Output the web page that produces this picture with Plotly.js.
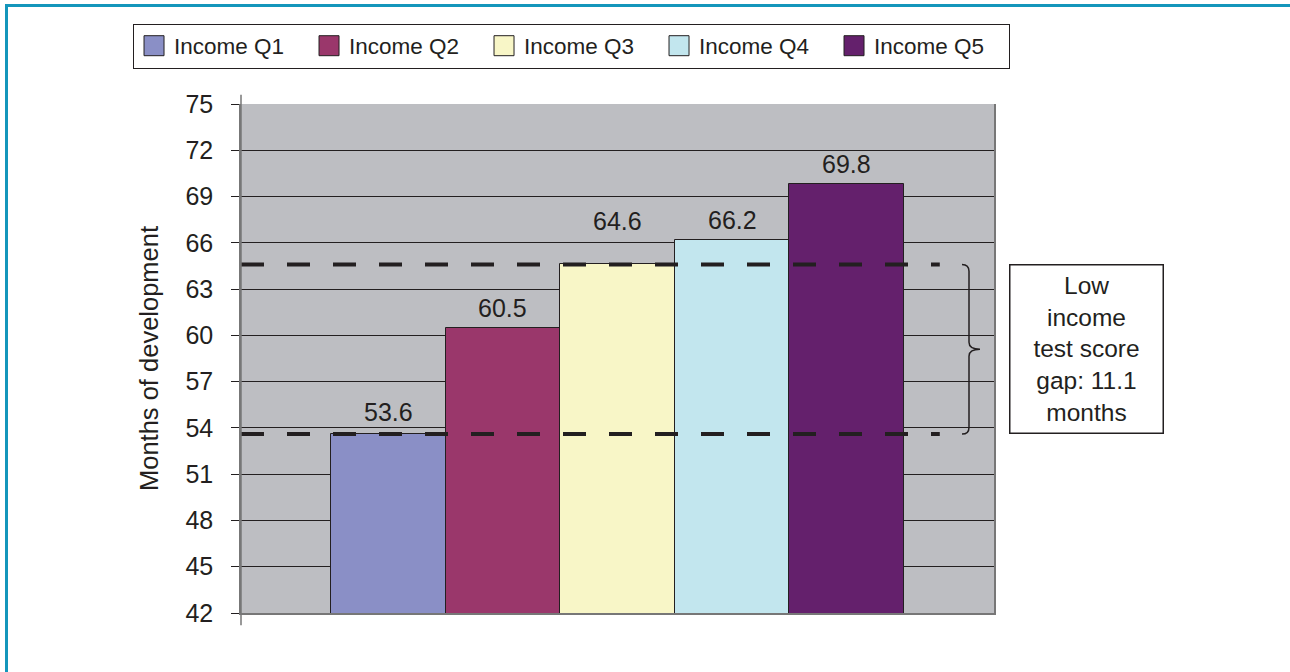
<!DOCTYPE html>
<html><head><meta charset="utf-8">
<script src="https://cdn.plot.ly/plotly-3.0.1.min.js"></script>
<style>
html,body{margin:0;padding:0;background:#fff;overflow:hidden;}
#chart{width:1290px;height:672px;}
#frame{position:absolute;left:5px;top:4px;right:0;bottom:0;border-left:3px solid #1496bb;border-top:3px solid #1496bb;pointer-events:none;}
</style></head><body>
<div id="chart"></div><div id="frame"></div>
<script>
const categories = ['Income Q1', 'Income Q2', 'Income Q3', 'Income Q4', 'Income Q5'];
const values = [53.6, 60.5, 64.6, 66.2, 69.8];
const colors = ['#8a8fc6', '#9a376b', '#f8f6c7', '#c2e6ee', '#64206c'];
const yTickVals = [42, 45, 48, 51, 54, 57, 60, 63, 66, 69, 72, 75];
const gapNoteLines = ['Low', 'income', 'test score', 'gap: 11.1', 'months'];
const yTitle = 'Months of development';

const FONT = 'Liberation Sans, Arial, Helvetica, sans-serif';
const TXT = '#231f20';

const traces = categories.map((c, i) => ({
  type: 'bar', name: c, x: [c], y: [values[i]],
  marker: {color: colors[i], line: {color: '#231f20', width: 1}},
  hoverinfo: 'name+y'
}));

const lowIdx = 0, highIdx = 2;
const low = values[lowIdx], high = values[highIdx], mid = (low + high) / 2;

// labels: the one sitting on the upper dashed line is lifted clear of it
const labelAnn = categories.map((c, i) => ({
  x: c, y: values[i], xref: 'x', yref: 'y', text: values[i].toFixed(1),
  showarrow: false, yanchor: 'bottom',
  yshift: i === highIdx ? 27 : (i === lowIdx ? 6 : 4),
  font: {family: FONT, size: 25, color: TXT}
}));

const noteAnn = {
  xref: 'paper', yref: 'y', x: 1.123, y: mid, xanchor: 'center', yanchor: 'middle',
  text: gapNoteLines.join('<br>'), showarrow: false, align: 'center',
  width: 150, height: 165, borderpad: 1, bordercolor: '#231f20', borderwidth: 1.5,
  bgcolor: '#ffffff', font: {family: FONT, size: 24.5, color: TXT}
};

const bx0 = 0.9575, bx1 = 0.9668, bx2 = 0.9814, c = 0.45;
const bracePath = `M${bx0},${high} Q${bx1},${high} ${bx1},${high - c} L${bx1},${mid + c} Q${bx1},${mid} ${bx2},${mid} Q${bx1},${mid} ${bx1},${mid - c} L${bx1},${low + c} Q${bx1},${low} ${bx0},${low}`;

const shapes = [
  {type: 'line', xref: 'paper', yref: 'y', x0: 0, x1: 0.928, y0: high, y1: high,
   line: {color: '#231f20', width: 4, dash: '23px,23px'}, layer: 'above'},
  {type: 'line', xref: 'paper', yref: 'y', x0: 0, x1: 0.928, y0: low, y1: low,
   line: {color: '#231f20', width: 4, dash: '23px,23px'}, layer: 'above'},
  {type: 'path', xref: 'paper', yref: 'y', path: bracePath, line: {color: '#231f20', width: 1.5}},
  {type: 'line', xref: 'paper', yref: 'paper', x0: 0, x1: 0, y0: -0.024, y1: 1.018,
   line: {color: '#777777', width: 1.5}, layer: 'above'}
];

const layout = {
  width: 1290, height: 672,
  margin: {l: 241, r: 296, t: 104, b: 59},
  paper_bgcolor: '#ffffff', plot_bgcolor: '#bdbec2',
  barmode: 'overlay', bargap: 0,
  font: {family: FONT, size: 24, color: TXT},
  showlegend: true,
  legend: {orientation: 'h', x: -0.1434, y: 1.158, xanchor: 'left', yanchor: 'top',
    bgcolor: '#ffffff', bordercolor: '#231f20', borderwidth: 1, entrywidth: 130,
    font: {family: FONT, size: 22.5, color: TXT}},
  xaxis: {type: 'category', categoryorder: 'array', categoryarray: categories,
    range: [-1.285, 5.286], showticklabels: false, showgrid: false, zeroline: false,
    ticks: '', showline: true, linecolor: '#777777', linewidth: 1.5, fixedrange: true},
  yaxis: {range: [42, 75], tickvals: yTickVals, ticktext: yTickVals.map(String),
    showgrid: true, gridcolor: '#231f20', gridwidth: 1, zeroline: false,
    ticks: 'outside', ticklen: 8, tickcolor: '#231f20', tickwidth: 1,
    ticklabelstandoff: 13,
    showline: true, mirror: true, linecolor: '#777777', linewidth: 1.5,
    tickfont: {family: FONT, size: 25, color: TXT},
    title: {text: yTitle, font: {family: FONT, size: 25.5, color: TXT}, standoff: 20},
    fixedrange: true},
  annotations: labelAnn.concat([noteAnn]),
  shapes: shapes
};

Plotly.newPlot('chart', traces, layout, {displayModeBar: false}).then(() => {
  document.querySelectorAll('#chart .legendpoints path').forEach(p => p.setAttribute('d', 'M10,10H-10V-10H10Z'));
});
</script>
</body></html>
